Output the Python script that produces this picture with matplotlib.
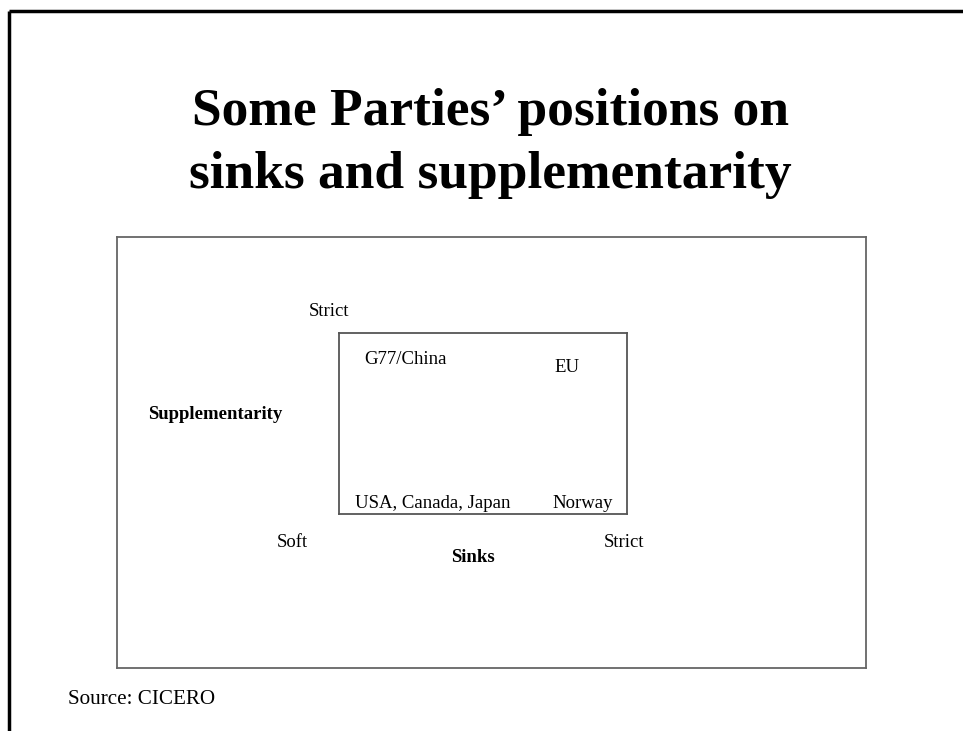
import matplotlib
matplotlib.use("Agg")
import matplotlib.pyplot as plt
from matplotlib.lines import Line2D

plt.rcParams['font.family'] = ['Liberation Serif', 'DejaVu Serif']

title_lines = ["Some Parties\u2019 positions on", "sinks and supplementarity"]
source = "Source: CICERO"

# parties and where they sit (sinks stance, supplementarity stance)
parties = ["G77/China", "EU", "USA, Canada, Japan", "Norway"]
sinks_stance = ["soft", "strict", "soft", "strict"]
supp_stance = ["strict", "strict", "soft", "soft"]

x_axis_name = "Sinks"
y_axis_name = "Supplementarity"
x_ends = ["Soft", "Strict"]
y_end = "Strict"

W, H = 963, 731
fig = plt.figure(figsize=(W / 100, H / 100), dpi=100)

# slide frame (top and left edges only)
fig.add_artist(Line2D([9 / W, 1], [1 - 11 / H, 1 - 11 / H], color='black', lw=2.5,
                      transform=fig.transFigure, solid_capstyle='butt'))
fig.add_artist(Line2D([9 / W, 9 / W], [0, 1 - 11 / H], color='black', lw=2.5,
                      transform=fig.transFigure, solid_capstyle='butt'))

for line, base in zip(title_lines, [125, 188]):
    fig.text(490 / W, 1 - base / H, line, ha='center', va='baseline', fontsize=38.5,
             fontweight='bold')
fig.text(68 / W, 1 - 700 / H, source, ha='left', va='center', fontsize=15.2)

# outer box
outer = fig.add_axes([117 / W, 1 - 668 / H, (866 - 117) / W, (668 - 237) / H])
outer.set_xticks([])
outer.set_yticks([])
for s in outer.spines.values():
    s.set_color('#666666')
    s.set_linewidth(1.3)

# inner box: x = sinks, y = supplementarity
ax = fig.add_axes([339 / W, 1 - 514 / H, (627 - 339) / W, (514 - 333) / H])
ax.set_xlim(0, 1)
ax.set_ylim(0, 1)
ax.set_xticks([])
ax.set_yticks([])
for s in ax.spines.values():
    s.set_color('#555555')
    s.set_linewidth(1.3)

fs = 13.5
layout = {
    ("soft", "strict"): (0.23, 0.855),
    ("strict", "strict"): (0.79, 0.81),
    ("soft", "soft"): (0.325, 0.06),
    ("strict", "soft"): (0.845, 0.06),
}
for name, sk, sp in zip(parties, sinks_stance, supp_stance):
    x, y = layout[(sk, sp)]
    ax.text(x, y, name, ha='center', va='center', fontsize=fs)

ax.text(-0.163, -0.155, x_ends[0], ha='center', va='center', fontsize=fs, clip_on=False)
ax.text(0.99, -0.155, x_ends[1], ha='center', va='center', fontsize=fs, clip_on=False)
ax.text(0.465, -0.243, x_axis_name, ha='center', va='center', fontsize=fs,
        fontweight='bold', clip_on=False)
ax.text(-0.035, 1.12, y_end, ha='center', va='center', fontsize=fs, clip_on=False)
ax.text(-0.43, 0.547, y_axis_name, ha='center', va='center', fontsize=fs,
        fontweight='bold', clip_on=False)

fig.savefig("out.png", dpi=100)
